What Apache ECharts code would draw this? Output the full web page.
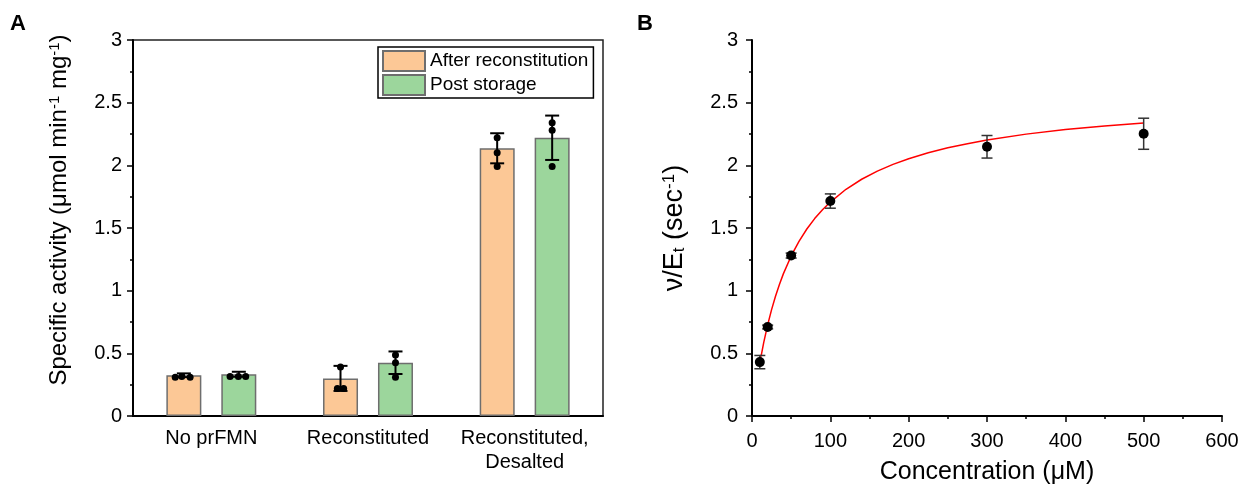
<!DOCTYPE html>
<html>
<head>
<meta charset="utf-8">
<script src="https://cdn.jsdelivr.net/npm/echarts@6/dist/echarts.min.js"></script>
<style>
    html, body { margin: 0; padding: 0; background: #fff; }
    #chart { width: 1244px; height: 488px; }
</style>
</head>
<body>
<div id="chart"></div>
<script>
// panel A: specific activity
const categories = ['No prFMN', 'Reconstituted', 'Reconstituted,\nDesalted'];
const afterMean = [0.325, 0.30, 2.136];
const afterErr = [0.015, 0.10, 0.12];
const storageMean = [0.333, 0.425, 2.22];
const storageErr = [0.02, 0.09, 0.177];
// individual replicates
const afterReps = [[0.31, 0.315, 0.31], [0.39, 0.22, 0.22], [2.22, 2.10, 1.99]];
const storageReps = [[0.315, 0.315, 0.315], [0.487, 0.425, 0.31], [2.34, 2.28, 1.99]];
// horizontal scatter of replicate dots (in category units)
const afterJitter = [[-0.055, -0.013, 0.04], [0, -0.02, 0.02], [0, 0, 0]];
const storageJitter = [[-0.056, -0.003, 0.044], [0, 0, 0], [0, 0, 0]];

// panel B: kinetics
const conc = [10, 20, 50, 100, 300, 500];
const rate = [0.43, 0.71, 1.28, 1.715, 2.148, 2.252];
const rateErr = [0.053, 0.015, 0.02, 0.057, 0.09, 0.124];
// fitted curve
const fitConc = [10, 12, 15, 20, 25, 30, 35, 40, 50, 60, 70, 80, 90, 100, 120, 140, 160, 180, 200, 225, 250, 275, 300, 350, 400, 450, 500];
const fitRate = [0.45, 0.49, 0.587, 0.727, 0.849, 0.956, 1.05, 1.134, 1.277, 1.394, 1.492, 1.575, 1.646, 1.707, 1.809, 1.889, 1.954, 2.008, 2.053, 2.101, 2.14, 2.173, 2.202, 2.249, 2.285, 2.314, 2.337];

const FONT = '"Liberation Sans", Arial, sans-serif';
const ORANGE = '#FCC896';
const GREEN = '#9CD69C';
const barHalfStep = 0.1755; // bar centre offset from category centre

const chart = echarts.init(document.getElementById('chart'));

function errBar(capHalf, color, width) {
    return function (params, api) {
        const x = api.value(0);
        const lo = api.coord([x, api.value(1)]);
        const hi = api.coord([x, api.value(2)]);
        const style = {stroke: color, lineWidth: width};
        return {
            type: 'group',
            children: [
                {type: 'line', shape: {x1: lo[0], y1: lo[1], x2: hi[0], y2: hi[1]}, style: style},
                {type: 'line', shape: {x1: hi[0] - capHalf, y1: hi[1], x2: hi[0] + capHalf, y2: hi[1]}, style: style},
                {type: 'line', shape: {x1: lo[0] - capHalf, y1: lo[1], x2: lo[0] + capHalf, y2: lo[1]}, style: style}
            ]
        };
    };
}

const errAfter = afterMean.map((m, i) => [i + 0.5 - barHalfStep, m - afterErr[i], m + afterErr[i]]);
const errStorage = storageMean.map((m, i) => [i + 0.5 + barHalfStep, m - storageErr[i], m + storageErr[i]]);
let dotsA = [];
afterReps.forEach((reps, i) => reps.forEach((v, j) => dotsA.push([i + 0.5 - barHalfStep + afterJitter[i][j], v])));
storageReps.forEach((reps, i) => reps.forEach((v, j) => dotsA.push([i + 0.5 + barHalfStep + storageJitter[i][j], v])));

const errB = conc.map((c, i) => [c, rate[i] - rateErr[i], rate[i] + rateErr[i]]);

const axisLine = {lineStyle: {color: '#000', width: 2}};
const tick = {inside: false, length: 6, lineStyle: {color: '#000', width: 1.5}};
const minor = {show: true, splitNumber: 2, length: 3, lineStyle: {color: '#000', width: 1.5}};

const option = {
    animation: false,
    textStyle: {fontFamily: FONT},
    graphic: [
        {type: 'text', left: 10, top: 13, style: {text: 'A', font: 'bold 22px ' + FONT, fill: '#000'}},
        {type: 'text', left: 637, top: 13, style: {text: 'B', font: 'bold 22px ' + FONT, fill: '#000'}}
    ],
    legend: {
        data: ['After reconstitution', 'Post storage'],
        orient: 'vertical',
        left: 378,
        top: 47,
        itemWidth: 42,
        itemHeight: 20,
        itemGap: 2,
        padding: [3, 5, 2, 4],
        borderColor: '#000',
        borderWidth: 1.5,
        icon: 'rect',
        textStyle: {fontSize: 19, color: '#000', fontFamily: FONT}
    },
    grid: [
        {left: 133, top: 40, width: 470, height: 376, outerBoundsMode: 'none', show: true, borderColor: '#222', borderWidth: 1.5, backgroundColor: 'transparent'},
        {left: 752, top: 40, width: 470, height: 376, outerBoundsMode: 'none'}
    ],
    xAxis: [
        {
            gridIndex: 0, type: 'category', data: categories,
            axisLine: axisLine, axisTick: {show: false},
            axisLabel: {interval: 0, fontSize: 20, color: '#000', margin: 10, lineHeight: 24, fontFamily: FONT}
        },
        {gridIndex: 0, type: 'value', min: 0, max: 3, show: false},
        {
            gridIndex: 1, type: 'value', min: 0, max: 600, interval: 100,
            axisLine: axisLine, axisTick: tick, minorTick: minor,
            splitLine: {show: false},
            axisLabel: {fontSize: 20, color: '#000', margin: 15, fontFamily: FONT},
            name: 'Concentration (μM)', nameLocation: 'middle', nameGap: 44,
            nameTextStyle: {fontSize: 25, color: '#000', fontFamily: FONT}
        }
    ],
    yAxis: [
        {
            gridIndex: 0, type: 'value', min: 0, max: 3, interval: 0.5,
            axisLine: axisLine, axisTick: tick, minorTick: minor,
            splitLine: {show: false},
            axisLabel: {fontSize: 20, color: '#000', margin: 11, fontFamily: FONT},
            name: '{a|Specific activity (μmol min}{s|-1}{a| mg}{s|-1}{a|)}',
            nameLocation: 'middle', nameGap: 62,
            nameTextStyle: {
                padding: [0, 0, 0, 36],
                rich: {
                    a: {fontSize: 24, color: '#000', fontFamily: FONT},
                    s: {fontSize: 15, color: '#000', fontFamily: FONT, verticalAlign: 'top'}
                }
            }
        },
        {
            gridIndex: 1, type: 'value', min: 0, max: 3, interval: 0.5,
            axisLine: axisLine, axisTick: tick, minorTick: minor,
            splitLine: {show: false},
            axisLabel: {fontSize: 20, color: '#000', margin: 14, fontFamily: FONT},
            name: '{a|ν/E}{b|t}{a| (sec}{s|-1}{a|)}',
            nameLocation: 'middle', nameGap: 64,
            nameTextStyle: {
                rich: {
                    a: {fontSize: 27, color: '#000', fontFamily: FONT},
                    b: {fontSize: 17, color: '#000', fontFamily: FONT, verticalAlign: 'bottom'},
                    s: {fontSize: 17, color: '#000', fontFamily: FONT, verticalAlign: 'top'}
                }
            }
        }
    ],
    series: [
        {
            name: 'After reconstitution', type: 'bar', xAxisIndex: 0, yAxisIndex: 0,
            data: afterMean, barWidth: 35, barGap: '57%',
            itemStyle: {color: ORANGE, borderColor: '#6e6e6e', borderWidth: 1.5}
        },
        {
            name: 'Post storage', type: 'bar', xAxisIndex: 0, yAxisIndex: 0,
            data: storageMean, barWidth: 35, barGap: '57%',
            itemStyle: {color: GREEN, borderColor: '#6e6e6e', borderWidth: 1.5}
        },
        {
            type: 'custom', xAxisIndex: 1, yAxisIndex: 0, z: 5,
            renderItem: errBar(7, '#000', 2), data: errAfter.concat(errStorage)
        },
        {
            type: 'scatter', xAxisIndex: 1, yAxisIndex: 0, z: 6,
            data: dotsA, symbolSize: 7, itemStyle: {color: '#000', opacity: 1}
        },
        {
            type: 'line', xAxisIndex: 2, yAxisIndex: 1,
            data: fitConc.map((c, i) => [c, fitRate[i]]),
            smooth: false, showSymbol: false,
            lineStyle: {color: '#ff0000', width: 1.5}
        },
        {
            type: 'custom', xAxisIndex: 2, yAxisIndex: 1, z: 5,
            renderItem: errBar(5.5, '#333', 1.5), data: errB
        },
        {
            type: 'scatter', xAxisIndex: 2, yAxisIndex: 1, z: 6,
            data: conc.map((c, i) => [c, rate[i]]), symbolSize: 10,
            itemStyle: {color: '#000', opacity: 1}
        }
    ]
};

chart.setOption(option);

window.addEventListener('resize', function () {
    chart.resize();
});
</script>
</body>
</html>
